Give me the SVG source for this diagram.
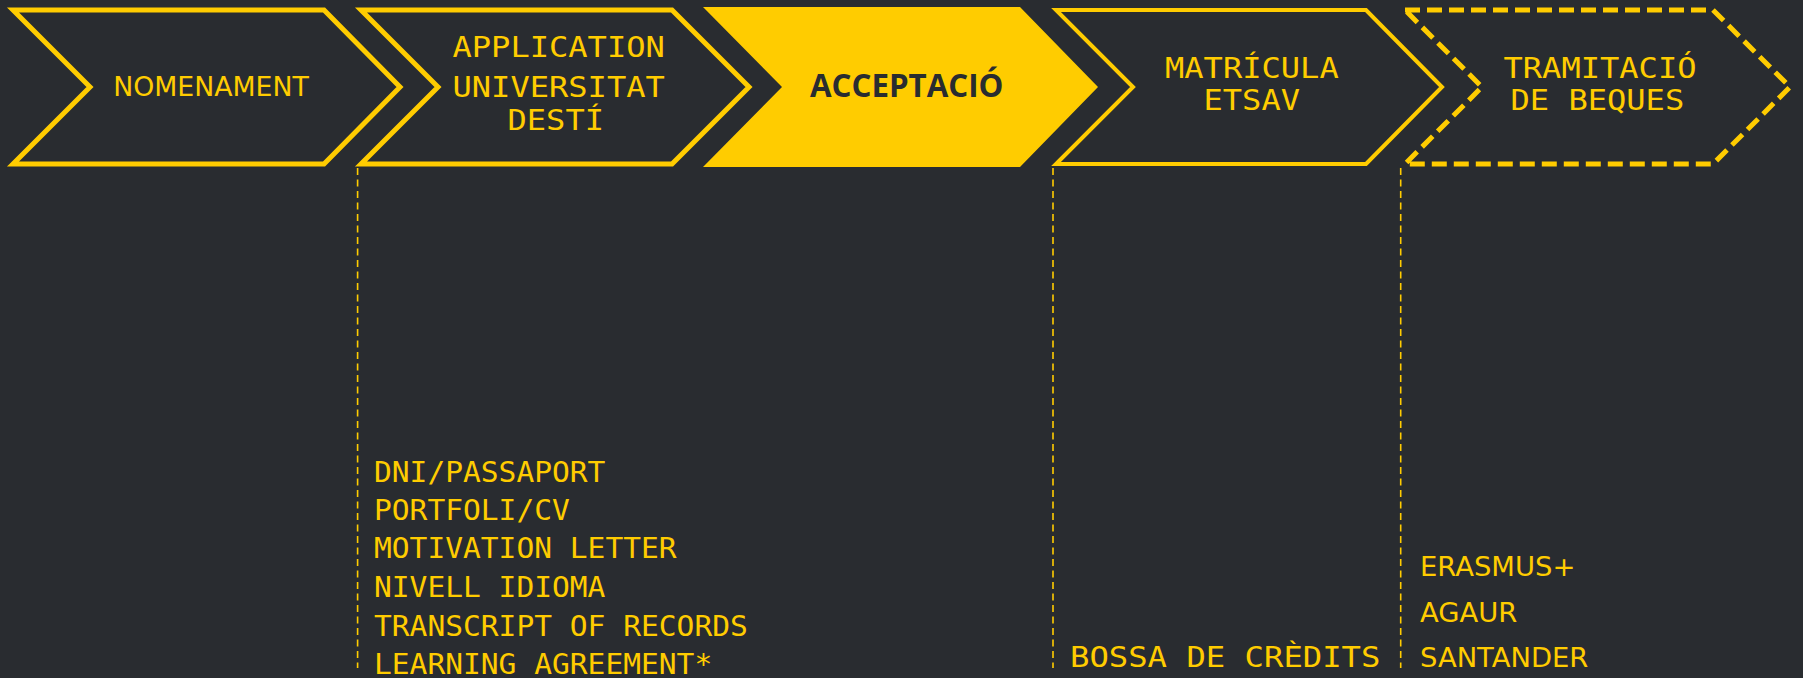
<svg xmlns="http://www.w3.org/2000/svg" width="1803" height="678" viewBox="0 0 1803 678">
<style>
.bg{fill:#292c30}
.chev{fill:none;stroke:#ffcc00;stroke-linejoin:miter;stroke-miterlimit:10}
.mono{font-family:"DejaVu Sans Mono",monospace;font-size:27.5px;fill:#ffcc00}
.lst{font-size:28px}
.sans{font-family:"DejaVu Sans",sans-serif;font-size:27.4px;fill:#ffcc00}
.vline{stroke:#ffcc00;stroke-width:1.6;stroke-dasharray:7 4.5;fill:none}
</style>
<rect class="bg" x="0" y="0" width="1803" height="678"/>
<g id="step-nomenament">
<polygon class="chev" stroke-width="5" points="13,10 324,10 400,87 324,164 13,164 90,87"/>
<text class="sans" x="113.2" y="95.7" font-size="28.4" textLength="195.6" lengthAdjust="spacingAndGlyphs">NOMENAMENT</text>
</g>
<g id="step-application">
<polygon class="chev" stroke-width="5" points="361,10 672,10 749,87 672,164 361,164 438,87"/>
<text class="mono" x="452.5" y="57" textLength="212.3" lengthAdjust="spacingAndGlyphs">APPLICATION</text>
<text class="mono" x="452.5" y="97" textLength="212.3" lengthAdjust="spacingAndGlyphs">UNIVERSITAT</text>
<text class="mono" x="507.5" y="129.5" textLength="96.5" lengthAdjust="spacingAndGlyphs">DESTÍ</text>
</g>
<g id="step-acceptacio">
<polygon fill="#ffcc00" points="703,7 1020,7 1098,87 1020,167 703,167 782,87"/>
<text x="810" y="97.3" font-family="'Open Sans',sans-serif" font-weight="bold" font-size="32.6" fill="#292c30" textLength="193.5" lengthAdjust="spacingAndGlyphs">ACCEPTACIÓ</text>
</g>
<g id="step-matricula">
<polygon class="chev" stroke-width="4" points="1056,10 1366,10 1442,87 1366,164 1056,164 1133,87"/>
<text class="mono" x="1165" y="77.5" textLength="173.7" lengthAdjust="spacingAndGlyphs">MATRÍCULA</text>
<text class="mono" x="1203.5" y="110" textLength="96.5" lengthAdjust="spacingAndGlyphs">ETSAV</text>
</g>
<g id="step-beques">
<polygon class="chev" stroke-width="5" stroke-dasharray="15 7" points="1405,10 1713,10 1790,87 1713,164 1405,164 1482,87"/>
<text class="mono" x="1503.5" y="77.5" textLength="193" lengthAdjust="spacingAndGlyphs">TRAMITACIÓ</text>
<text class="mono" x="1510.5" y="110" textLength="173.7" lengthAdjust="spacingAndGlyphs">DE BEQUES</text>
</g>
<g id="connectors">
<line class="vline" x1="357.6" y1="168" x2="357.6" y2="668"/>
<line class="vline" x1="1053" y1="168" x2="1053" y2="668"/>
<line class="vline" x1="1400.7" y1="168" x2="1400.7" y2="668"/>
</g>
<g id="list-application">
<text class="mono lst" x="374" y="481.7" textLength="231.4" lengthAdjust="spacingAndGlyphs">DNI/PASSAPORT</text>
<text class="mono lst" x="374" y="520" textLength="195.8" lengthAdjust="spacingAndGlyphs">PORTFOLI/CV</text>
<text class="mono lst" x="374" y="558.3" textLength="302.6" lengthAdjust="spacingAndGlyphs">MOTIVATION LETTER</text>
<text class="mono lst" x="374" y="596.7" textLength="231.4" lengthAdjust="spacingAndGlyphs">NIVELL IDIOMA</text>
<text class="mono lst" x="374" y="635.7" textLength="373.8" lengthAdjust="spacingAndGlyphs">TRANSCRIPT OF RECORDS</text>
<text class="mono lst" x="374" y="674" textLength="338.2" lengthAdjust="spacingAndGlyphs">LEARNING AGREEMENT*</text>
</g>
<g id="list-matricula">
<text class="mono" x="1070" y="667" textLength="310.4" lengthAdjust="spacingAndGlyphs">BOSSA DE CRÈDITS</text>
</g>
<g id="list-beques">
<text class="sans" x="1420" y="576">ERASMUS+</text>
<text class="sans" x="1420" y="621.7">AGAUR</text>
<text class="sans" x="1420" y="667.3">SANTANDER</text>
</g>
</svg>
